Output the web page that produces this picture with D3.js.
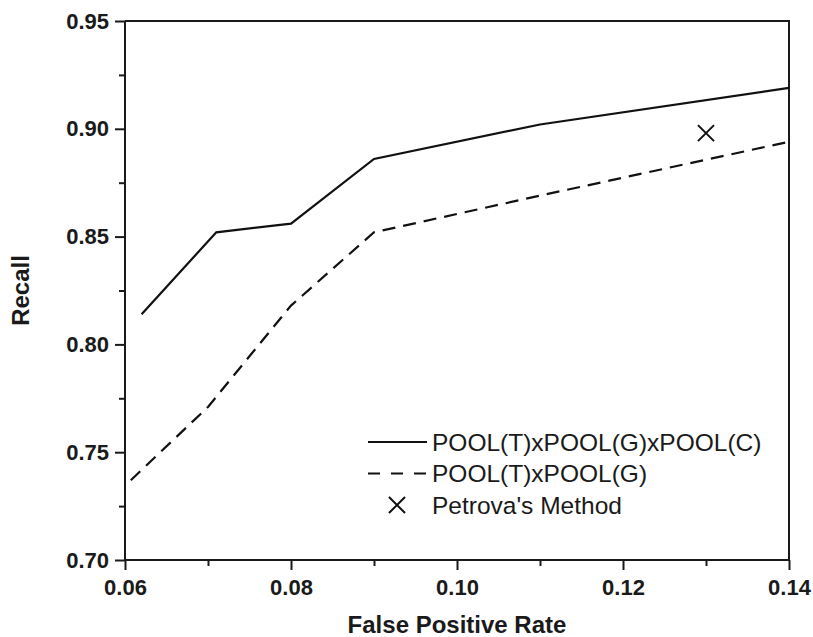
<!DOCTYPE html>
<html>
<head>
<meta charset="utf-8">
<script src="https://cdn.jsdelivr.net/npm/d3@7"></script>
<style>
  body { margin: 0; background: #fff; }
  svg { display: block; font-family: "Liberation Sans", Arial, sans-serif; }
  .axis path, .axis line { stroke: #1a1a1a; stroke-width: 2; }
  .axis text { font-size: 22px; font-weight: bold; fill: #1a1a1a; }
  .title { font-size: 24px; font-weight: bold; fill: #1a1a1a; }
  .legend text { font-size: 24.5px; fill: #1a1a1a; }
</style>
</head>
<body>
<div id="wrapper"></div>
<script>
// data
const xTicks = [0.06, 0.08, 0.10, 0.12, 0.14]
const xMinorTicks = [0.07, 0.09, 0.11, 0.13]
const yTicks = [0.70, 0.75, 0.80, 0.85, 0.90, 0.95]
const yMinorTicks = [0.725, 0.775, 0.825, 0.875, 0.925]

const fprFull = [0.062, 0.071, 0.080, 0.090, 0.110, 0.140]
const recallFull = [0.814, 0.852, 0.856, 0.886, 0.902, 0.919]

const fprTG = [0.0607, 0.070, 0.080, 0.090, 0.110, 0.140]
const recallTG = [0.737, 0.771, 0.818, 0.852, 0.869, 0.894]

const petrovaFpr = [0.130]
const petrovaRecall = [0.898]

const legendLabels = ["POOL(T)xPOOL(G)xPOOL(C)", "POOL(T)xPOOL(G)", "Petrova's Method"]

function drawChart() {

  // 1. Dimensions
  const dimensions = {
    width: 813,
    height: 637,
    margin: { top: 21, right: 24, bottom: 77, left: 125 },
  }
  dimensions.boundedWidth = dimensions.width - dimensions.margin.left - dimensions.margin.right
  dimensions.boundedHeight = dimensions.height - dimensions.margin.top - dimensions.margin.bottom

  // 2. Canvas
  const wrapper = d3.select("#wrapper")
    .append("svg")
      .attr("width", dimensions.width)
      .attr("height", dimensions.height)

  const bounds = wrapper.append("g")
      .attr("transform", `translate(${dimensions.margin.left},${dimensions.margin.top})`)

  // 3. Scales
  const xScale = d3.scaleLinear()
      .domain([0.06, 0.14])
      .range([0, dimensions.boundedWidth])

  const yScale = d3.scaleLinear()
      .domain([0.70, 0.95])
      .range([dimensions.boundedHeight, 0])

  // 4. Frame (top and right lines)
  bounds.append("path")
      .attr("d", `M0,0H${dimensions.boundedWidth}V${dimensions.boundedHeight}`)
      .attr("fill", "none")
      .attr("stroke", "#1a1a1a")
      .attr("stroke-width", 2)

  // 5. Data
  const lineGenerator = d3.line()
      .x(d => xScale(d[0]))
      .y(d => yScale(d[1]))

  bounds.append("path")
      .datum(d3.zip(fprFull, recallFull))
      .attr("d", lineGenerator)
      .attr("fill", "none")
      .attr("stroke", "#111")
      .attr("stroke-width", 2.2)

  bounds.append("path")
      .datum(d3.zip(fprTG, recallTG))
      .attr("d", lineGenerator)
      .attr("fill", "none")
      .attr("stroke", "#111")
      .attr("stroke-width", 2.2)
      .attr("stroke-dasharray", "13,8")

  const cross = d3.symbol().type(d3.symbolX).size(170)
  bounds.selectAll(".petrova")
    .data(d3.zip(petrovaFpr, petrovaRecall))
    .enter().append("path")
      .attr("class", "petrova")
      .attr("transform", d => `translate(${xScale(d[0])},${yScale(d[1])})`)
      .attr("d", cross)
      .attr("fill", "none")
      .attr("stroke", "#111")
      .attr("stroke-width", 2)

  // 6. Axes
  const xAxis = bounds.append("g")
      .attr("class", "axis")
      .attr("transform", `translate(0,${dimensions.boundedHeight})`)
      .call(d3.axisBottom(xScale)
        .tickValues(xTicks)
        .tickSize(10)
        .tickPadding(9)
        .tickFormat(d3.format(".2f")))
  xAxis.select(".domain").attr("d", `M0,0H${dimensions.boundedWidth}`)

  bounds.append("g")
      .attr("class", "axis")
      .attr("transform", `translate(0,${dimensions.boundedHeight})`)
      .call(d3.axisBottom(xScale)
        .tickValues(xMinorTicks)
        .tickSize(6)
        .tickFormat(""))
      .select(".domain").remove()

  const yAxis = bounds.append("g")
      .attr("class", "axis")
      .call(d3.axisLeft(yScale)
        .tickValues(yTicks)
        .tickSize(10)
        .tickPadding(6)
        .tickFormat(d3.format(".2f")))
  yAxis.select(".domain").attr("d", `M0,0V${dimensions.boundedHeight}`)

  bounds.append("g")
      .attr("class", "axis")
      .call(d3.axisLeft(yScale)
        .tickValues(yMinorTicks)
        .tickSize(6)
        .tickFormat(""))
      .select(".domain").remove()

  bounds.append("text")
      .attr("class", "title")
      .attr("x", dimensions.boundedWidth / 2)
      .attr("y", dimensions.boundedHeight + 73)
      .attr("text-anchor", "middle")
      .text("False Positive Rate")

  bounds.append("text")
      .attr("class", "title")
      .attr("transform", `translate(${-96},${dimensions.boundedHeight / 2}) rotate(-90)`)
      .attr("text-anchor", "middle")
      .text("Recall")

  // 7. Legend
  const legend = bounds.append("g")
      .attr("class", "legend")
      .attr("transform", `translate(243,421)`)

  const rows = legend.selectAll("g")
    .data(legendLabels)
    .enter().append("g")
      .attr("transform", (d, i) => `translate(0,${i * 31.5})`)

  rows.append("text")
      .attr("x", 64)
      .attr("dy", "0.35em")
      .text(d => d)

  rows.filter((d, i) => i < 2).append("line")
      .attr("x1", 0)
      .attr("x2", 59)
      .attr("stroke", "#111")
      .attr("stroke-width", 2.2)
      .attr("stroke-dasharray", (d, i) => i == 1 ? "12,11" : null)

  rows.filter((d, i) => i == 2).append("path")
      .attr("transform", "translate(29,0)")
      .attr("d", cross)
      .attr("fill", "none")
      .attr("stroke", "#111")
      .attr("stroke-width", 2)
}
drawChart()
</script>
</body>
</html>
